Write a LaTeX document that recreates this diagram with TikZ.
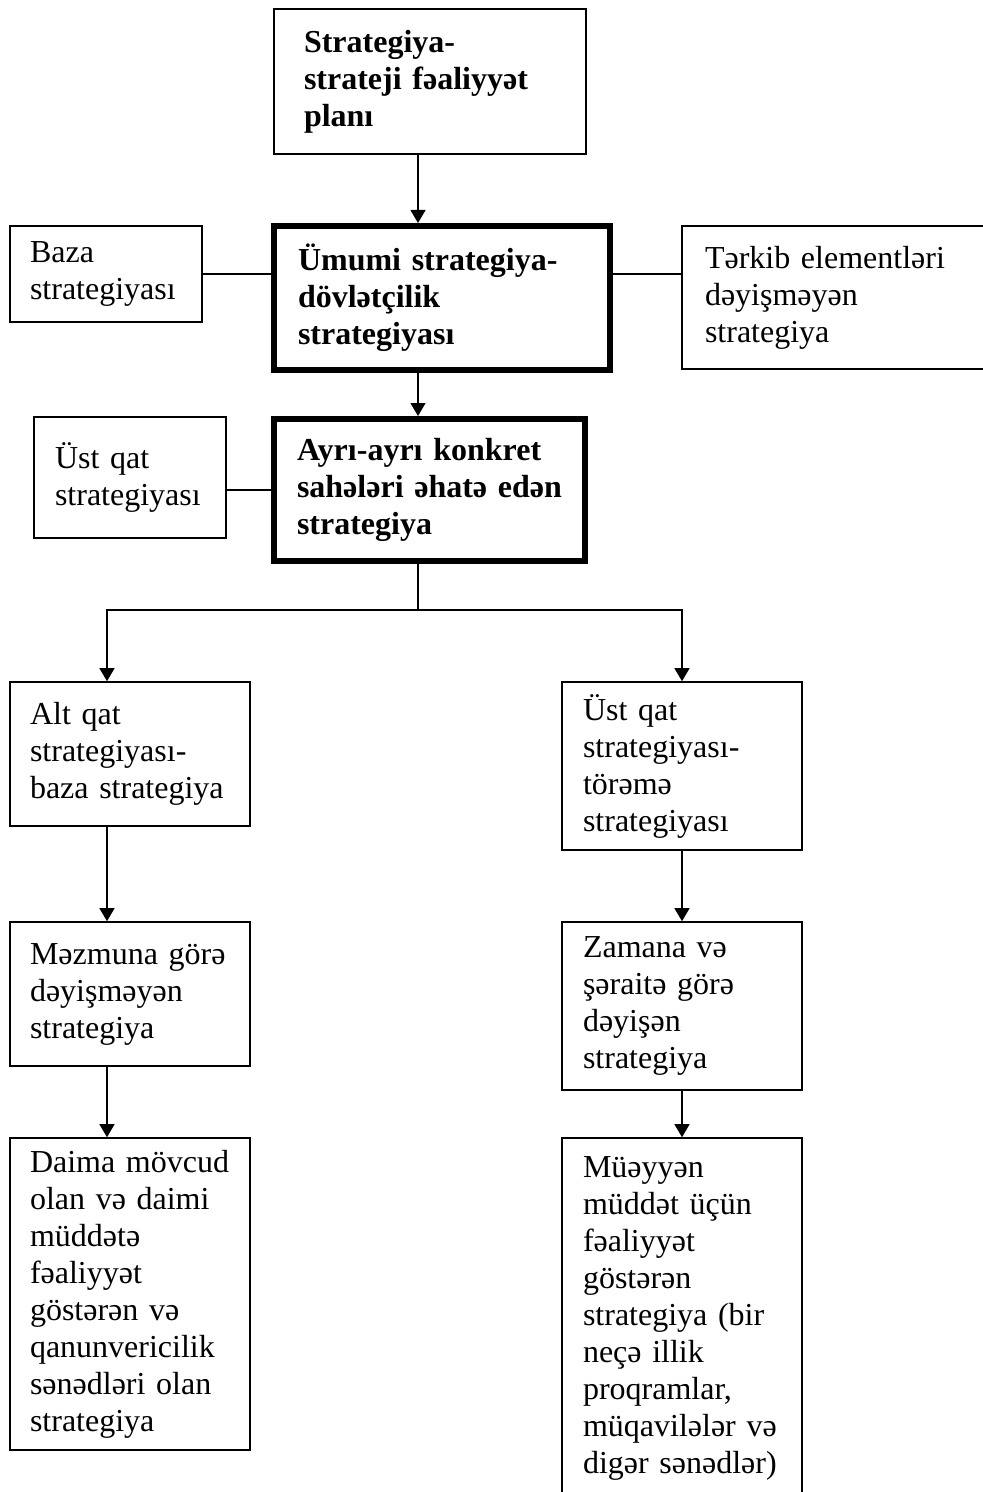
\documentclass[tikz,border=0pt]{standalone}
\usepackage{fontspec}
\setmainfont{Liberation Serif}
\usetikzlibrary{positioning,arrows.meta}

\begin{document}
\begin{tikzpicture}[
    x=0.5pt, y=-0.5pt,
    every node/.style={rectangle, draw, line width=0.8pt, align=left, inner ysep=0pt, font=\fontsize{16}{18.5}\selectfont},
    leftbox/.style={minimum width=120pt, inner xsep=10pt, text width=100pt},
    rightbox/.style={minimum width=120pt, inner xsep=10.5pt, text width=99pt},
    sidebox/.style={minimum width=96pt, text width=76pt},
    mainbox/.style={line width=3pt, font=\fontsize{16}{18.5}\selectfont\bfseries},
    link/.style={draw, line width=0.8pt},
    flow/.style={draw, line width=0.6pt, -{Triangle[length=6.5pt,width=7.5pt]}}
  ]
\useasboundingbox (0,0) rectangle (983,1492);

\node[minimum width=156pt, minimum height=72.5pt, inner xsep=15pt, text width=126pt, font=\fontsize{16}{18.5}\selectfont\bfseries] (plan) at (430,81.5) {Strategiya-\\strateji fəaliyyət\\planı};

\node[mainbox, minimum width=168pt, minimum height=72pt, inner xsep=12pt, text width=144pt] (umumi) at (442,298) {Ümumi strategiya-\\dövlətçilik\\strategiyası};
\node[sidebox, minimum height=48pt, inner xsep=10pt] (baza) at (106,274) {Baza\\strategiyası};
\node[minimum width=154pt, minimum height=71.5pt, inner xsep=11.5pt, text width=131pt] (terkib) at (836,297.5) {Tərkib elementləri\\dəyişməyən\\strategiya};

\node[mainbox, minimum width=155.5pt, minimum height=71pt, inner xsep=11.5pt, text width=132.5pt] (ayri) at (429.5,490) {Ayrı-ayrı konkret\\sahələri əhatə edən\\strategiya};
\node[sidebox, minimum height=60.5pt, inner xsep=10.5pt, text width=75pt] (ustqat) at (130,477.5) {Üst qat\\strategiyası};

\node[leftbox, minimum height=72pt] (alt) at (130,754) {Alt qat\\strategiyası-\\baza strategiya};
\node[rightbox, minimum height=84pt] (torema) at (682,766) {Üst qat\\strategiyası-\\törəmə\\strategiyası};

\node[leftbox, minimum height=72pt] (mezmun) at (130,994) {Məzmuna görə\\dəyişməyən\\strategiya};
\node[rightbox, minimum height=84pt] (zaman) at (682,1006) {Zamana və\\şəraitə görə\\dəyişən\\strategiya};

\node[leftbox, minimum height=156pt] (daima) at (130,1294) {Daima mövcud\\olan və daimi\\müddətə\\fəaliyyət\\göstərən və\\qanunvericilik\\sənədləri olan\\strategiya};
\node[rightbox, minimum height=180pt] (mueyyen) at (682,1318) {Müəyyən\\müddət üçün\\fəaliyyət\\göstərən\\strategiya (bir\\neçə illik\\proqramlar,\\müqavilələr və\\digər sənədlər)};

\coordinate (spine) at (418,0);
\coordinate (lfork) at (107,0);
\coordinate (hub) at (418,610);

\draw[flow] (plan.south -| spine) -- (umumi.north -| spine);
\draw[link] (baza.east) -- (baza.east -| umumi.west);
\draw[link] (umumi.east |- baza.east) -- (terkib.west |- baza.east);
\draw[flow] (umumi.south -| spine) -- (ayri.north -| spine);
\draw[link] (ustqat.east |- ayri.west) -- (ayri.west);

\draw[link] (ayri.south -| spine) -- (hub);
\draw[flow] (hub) -| (alt.north -| lfork);
\draw[flow] (hub) -| (torema.north);

\draw[flow] (alt.south -| lfork) -- (mezmun.north -| lfork);
\draw[flow] (mezmun.south -| lfork) -- (daima.north -| lfork);
\draw[flow] (torema.south) -- (zaman.north);
\draw[flow] (zaman.south) -- (mueyyen.north);

\end{tikzpicture}
\end{document}
